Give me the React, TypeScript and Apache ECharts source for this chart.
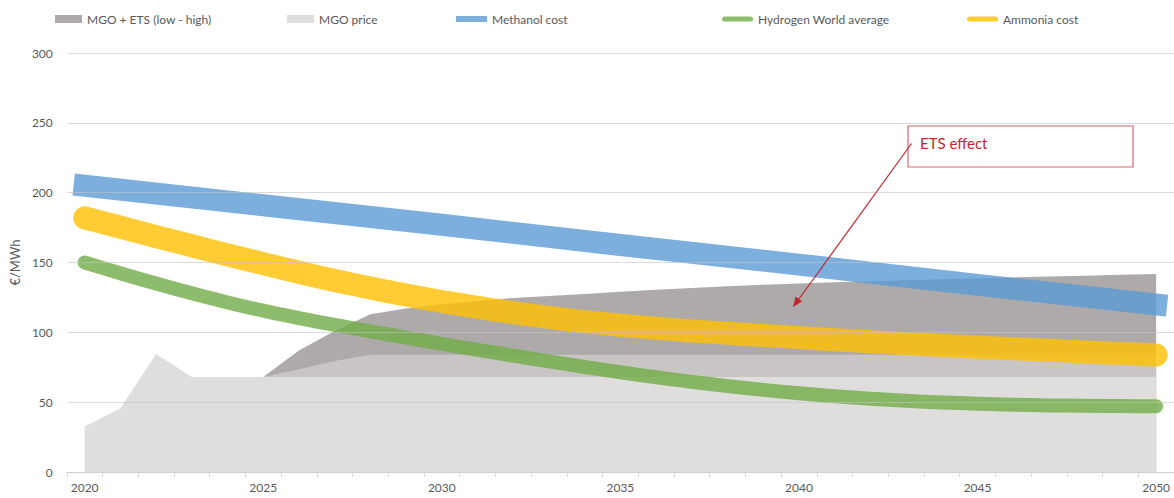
import React, { useEffect, useRef } from "react";
import * as echarts from "echarts";

// Years on the horizontal axis
const years = [
  "2020", "2021", "2022", "2023", "2024", "2025", "2026", "2027", "2028", "2029",
  "2030", "2031", "2032", "2033", "2034", "2035", "2036", "2037", "2038", "2039",
  "2040", "2041", "2042", "2043", "2044", "2045", "2046", "2047", "2048", "2049", "2050",
];

// €/MWh
const mgoPrice = [
  32.5, 45.5, 84.5, 68, 68, 68, 68, 68, 68, 68,
  68, 68, 68, 68, 68, 68, 68, 68, 68, 68,
  68, 68, 68, 68, 68, 68, 68, 68, 68, 68, 68,
];

const mgoEtsLow = [
  null, null, null, null, null, 68, 73.5, 79.5, 84, 84,
  84, 84, 84, 84, 84, 84, 84, 84, 84, 84,
  84, 84, 84, 84, 84, 84, 84, 84, 84, 84, 84,
];

const mgoEtsHigh = [
  null, null, null, null, null, 68, 87, 101, 113, 117,
  120, 122.5, 124.5, 126, 127.5, 129, 130.5, 131.8, 133, 134,
  135, 135.8, 136.6, 137.3, 138, 138.7, 139.3, 140, 140.6, 141.2, 141.8,
];

const methanolCost = [
  205, null, null, null, null, 191, null, null, null, null,
  177, null, null, null, null, 162.5, null, null, null, null,
  148.5, null, null, null, null, 134, null, null, null, null, 120,
];

const hydrogenWorldAverage = [
  150, 142.3, 134.9, 127.9, 121.4, 115.5, 110.2, 105.3, 100.7, 96.2,
  91.8, 87.5, 83.3, 79.2, 75.2, 71.4, 67.8, 64.5, 61.5, 58.8,
  56.4, 54.3, 52.5, 51, 49.8, 48.9, 48.2, 47.7, 47.4, 47.2, 47.1,
];

const ammoniaCost = [
  182, 175.3, 168.6, 162, 155.5, 149.2, 143, 137.1, 131.7, 126.7,
  122.1, 117.9, 114.1, 110.7, 107.7, 105.1, 102.9, 101, 99.3, 97.7,
  96.2, 94.7, 93.3, 91.9, 90.6, 89.4, 88.2, 87.1, 86, 84.9, 83.8,
];

const FONT = "Lato, 'Open Sans', sans-serif";
const TEXT = "#595959";
const ROUND_ICON = "path://M2.5,0 L28.5,0 A2.5,2.5 0 0 1 28.5,5 L2.5,5 A2.5,2.5 0 0 1 2.5,0 Z";

function legendAt(left: number, name: string, width: number, height: number, icon: string, color: string) {
  return {
    left,
    top: 13,
    padding: 0,
    orient: "horizontal",
    selectedMode: false,
    itemWidth: width,
    itemHeight: height,
    itemGap: 0,
    textStyle: { color: TEXT, fontSize: 12, fontFamily: FONT },
    data: [{ name, icon, itemStyle: { color, borderWidth: 0 } }],
  };
}

function areaSeries(name: string, data: (number | null)[], color: string) {
  return {
    name,
    type: "line",
    data,
    showSymbol: false,
    symbol: "none",
    lineStyle: { width: 0, color },
    itemStyle: { color },
    areaStyle: { color, opacity: 1 },
    z: 1,
  };
}

function costSeries(name: string, data: (number | null)[], color: string, width: number, cap: string, smooth: number | boolean) {
  return {
    name,
    type: "line",
    data,
    smooth,
    connectNulls: true,
    showSymbol: false,
    symbol: "none",
    lineStyle: { width, color, opacity: 0.8, cap, join: "round" },
    itemStyle: { color },
    z: 3,
  };
}

export default function App() {
  const ref = useRef<HTMLDivElement>(null);

  useEffect(() => {
    if (!ref.current) return;
    const chart = echarts.init(ref.current, null, { renderer: "svg" });

    const option = {
      animation: false,
      backgroundColor: "#ffffff",
      textStyle: { fontFamily: FONT },
      legend: [
        legendAt(55, "MGO + ETS (low - high)", 27, 8, "rect", "#AEAAA9"),
        legendAt(287, "MGO price", 27, 8, "rect", "#DFDEDD"),
        legendAt(456, "Methanol cost", 31, 6, "rect", "#7CAFDD"),
        legendAt(722, "Hydrogen World average", 31, 5, ROUND_ICON, "#8CBD6C"),
        legendAt(967, "Ammonia cost", 31, 5, ROUND_ICON, "#FFCC33"),
      ],
      grid: { left: 64.8, top: 53, width: 1111.2, height: 419, containLabel: false },
      xAxis: {
        type: "category",
        data: years,
        boundaryGap: true,
        axisLine: { show: true, lineStyle: { color: "#D9D9D9", width: 1 } },
        axisTick: { show: true, interval: 0, length: 5, lineStyle: { color: "#D9D9D9" } },
        axisLabel: { interval: 4, color: TEXT, fontSize: 12, fontFamily: FONT, margin: 9 },
        splitLine: { show: false },
      },
      yAxis: {
        type: "value",
        min: 0,
        max: 300,
        interval: 50,
        z: 10,
        name: "€/MWh",
        nameLocation: "middle",
        nameRotate: 90,
        nameGap: 40,
        nameTextStyle: { color: TEXT, fontSize: 13, fontFamily: FONT },
        axisLine: { show: false },
        axisTick: { show: false },
        axisLabel: { color: TEXT, fontSize: 12, fontFamily: FONT, margin: 14 },
        splitLine: { show: true, lineStyle: { color: "rgba(195,195,195,0.6)", width: 1 } },
      },
      series: [
        areaSeries("MGO + ETS (low - high)", mgoEtsHigh, "#AEAAA9"),
        areaSeries("MGO + ETS (low)", mgoEtsLow, "#C9C5C4"),
        areaSeries("MGO price", mgoPrice, "#DFDEDD"),
        costSeries("Methanol cost", methanolCost, "#5B9BD5", 22, "square", false),
        costSeries("Hydrogen World average", hydrogenWorldAverage, "#70AD47", 14, "round", 0.3),
        costSeries("Ammonia cost", ammoniaCost, "#FFC000", 23, "round", 0.3),
      ],
      graphic: [
        {
          type: "rect",
          shape: { x: 908, y: 126, width: 225, height: 41 },
          style: { fill: "#ffffff", stroke: "#D6676F", lineWidth: 1.2 },
          z: 20,
        },
        {
          type: "text",
          x: 920,
          y: 143,
          style: {
            text: "ETS effect",
            fill: "#C0272D",
            fontSize: 15,
            fontFamily: FONT,
            verticalAlign: "middle",
            align: "left",
          },
          z: 21,
        },
        {
          type: "line",
          shape: { x1: 911.5, y1: 143.5, x2: 799, y2: 299 },
          style: { stroke: "#C0272D", lineWidth: 1.2 },
          z: 21,
        },
        {
          type: "polygon",
          shape: { points: [[793, 307], [802.2, 301.2], [795.6, 296.4]] },
          style: { fill: "#C0272D" },
          z: 21,
        },
      ],
    };

    chart.setOption(option as any);
    return () => chart.dispose();
  }, []);

  return (
    <div
      ref={ref}
      style={{ position: "absolute", left: 0, top: 0, width: 1174, height: 498 }}
    />
  );
}
